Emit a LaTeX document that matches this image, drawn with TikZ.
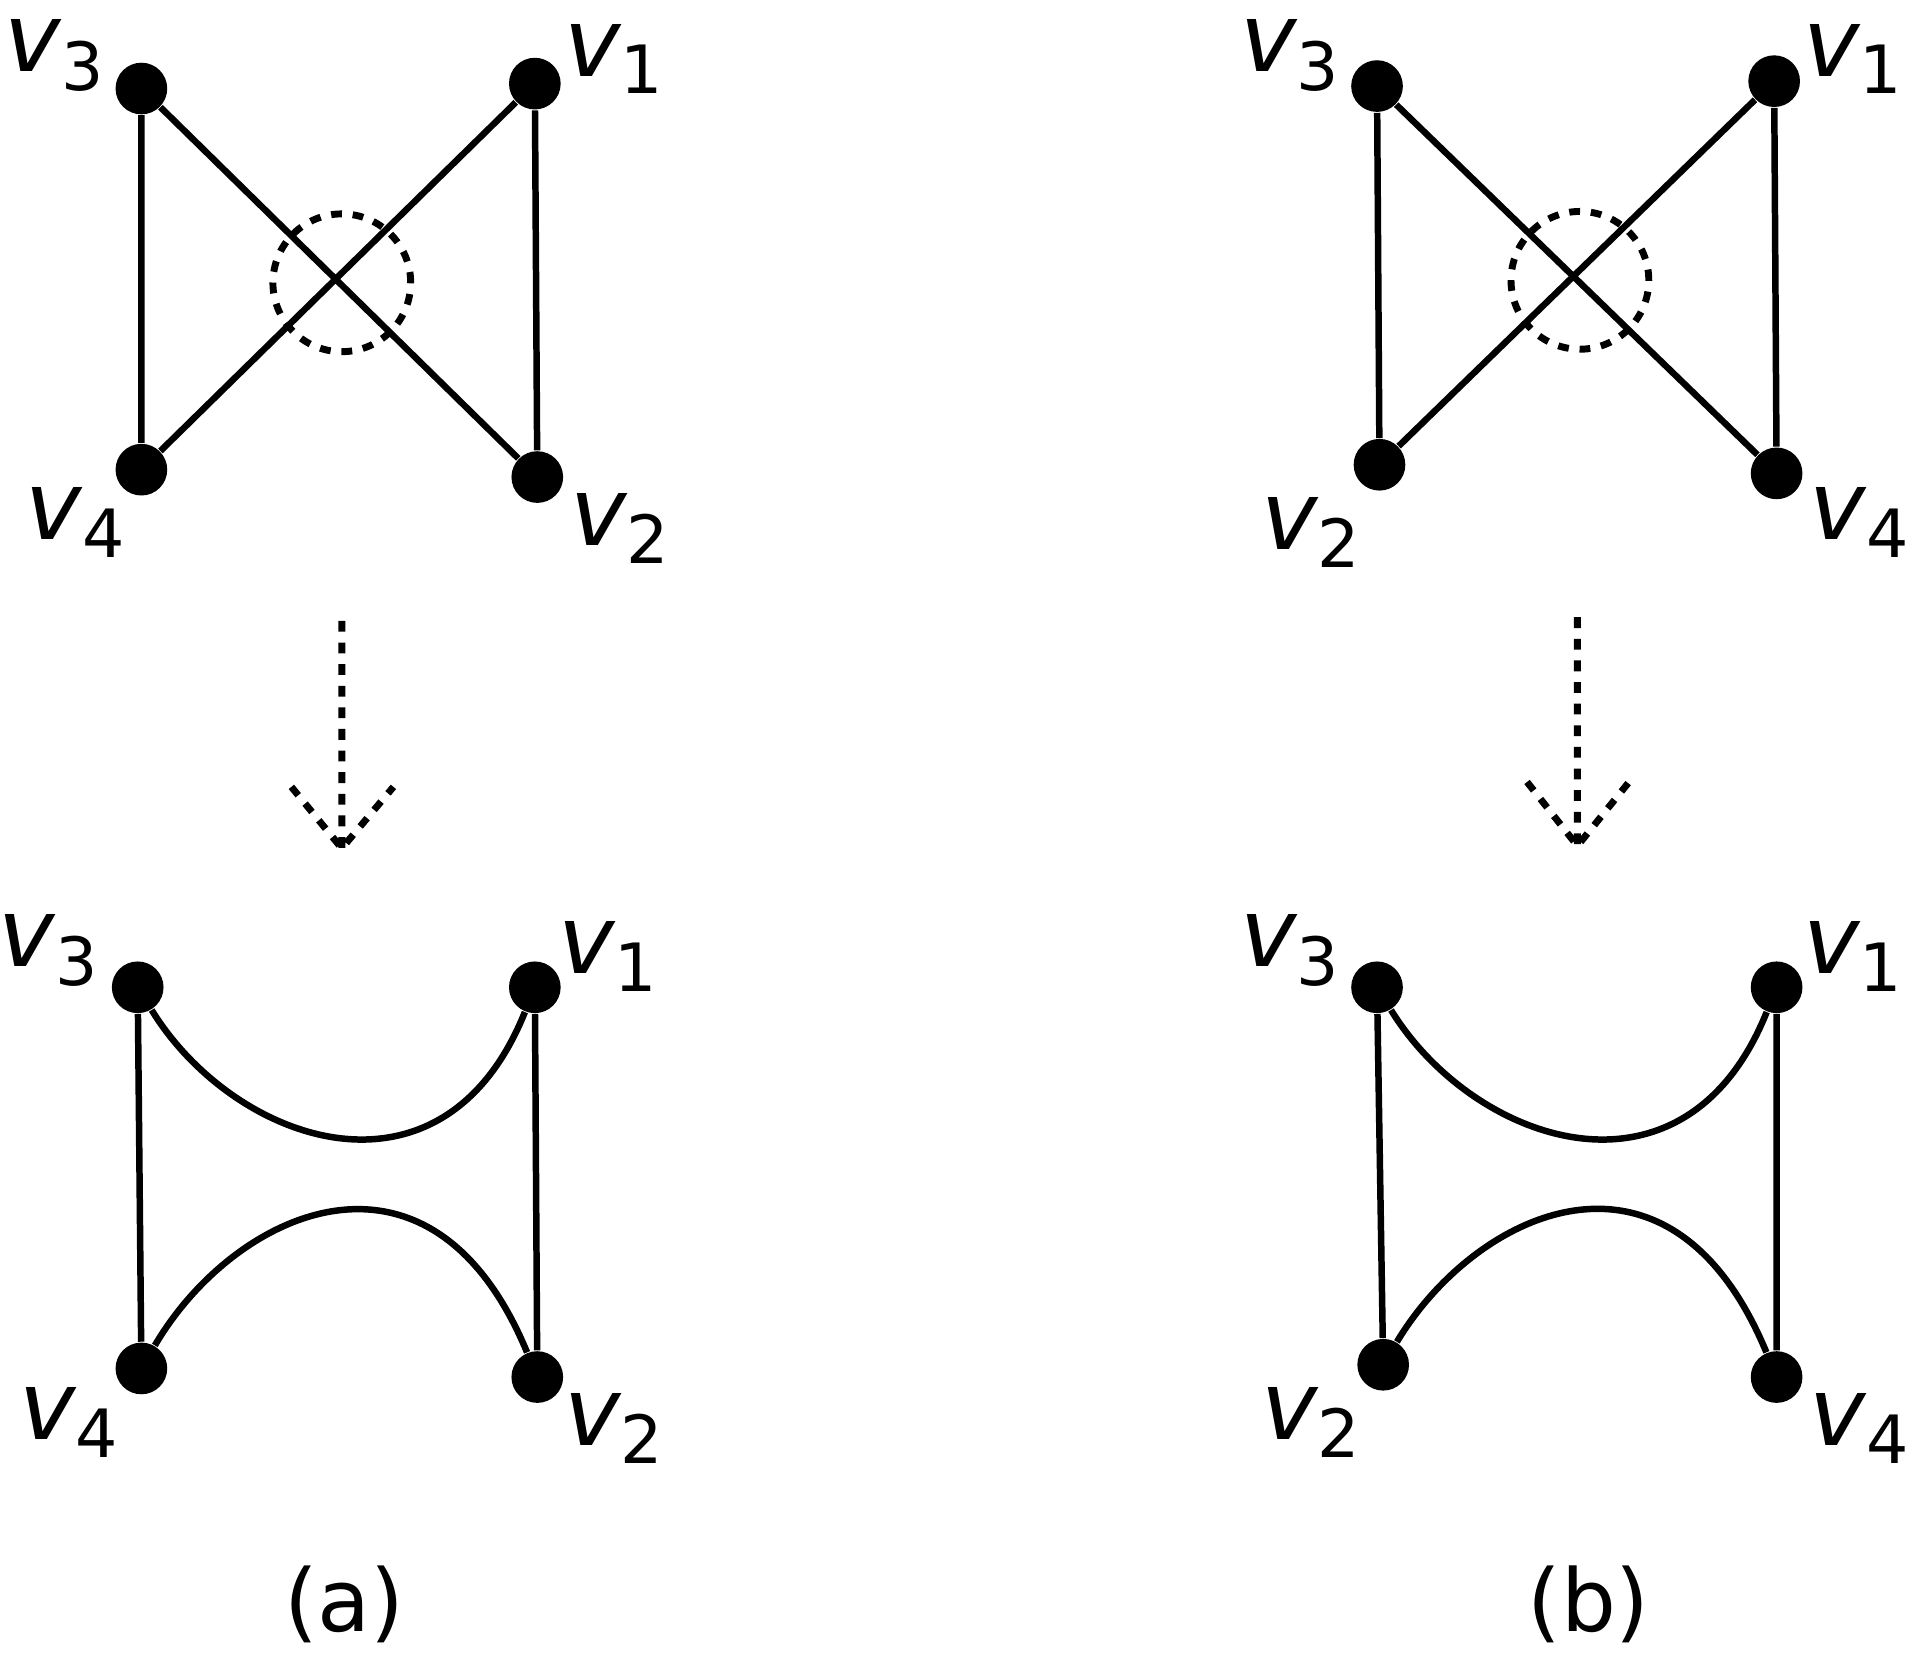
\documentclass[tikz,border=0pt]{standalone}
\usepackage{fontspec}
\setmainfont{DejaVu Sans}
\begin{document}
\begin{tikzpicture}[x=0.01cm,y=-0.01cm,
  dot/.style={circle,fill=black,inner sep=0pt,minimum size=0.42cm},
  edge/.style={line width=1.5pt},
  lab/.style={font=\fontsize{22}{24}\selectfont\itshape},
  dotted2/.style={line width=1.6pt,dash pattern=on 2.5pt off 2.5pt}]
\useasboundingbox (0,0) rectangle (1560,1351);
% panel a top
\node[dot] (a3) at (115,72) {}; \node[dot] (a1) at (435,68) {};
\node[dot] (a4) at (115,382) {}; \node[dot] (a2) at (437,388) {};
\draw[edge] (a3)--(a4) (a1)--(a2) (a3)--(a2) (a1)--(a4);
\draw[dotted2] (278,230) circle (0.56cm);
\node[lab] (la3) at (45,45) {v\textsubscript{\upshape 3}};
\node[lab] (la1) at (500,48) {v\textsubscript{\upshape 1}};
\node[lab] (la4) at (62,425) {v\textsubscript{\upshape 4}};
\node[lab] (la2) at (505,430) {v\textsubscript{\upshape 2}};
% arrow a
\coordinate (as) at (278,505); \coordinate (ae) at (278,690);
\draw[dotted2] (as)--(ae) (237,640)--(ae)--(320,640);
% panel a bottom
\node[dot] (c3) at (112,803) {}; \node[dot] (c1) at (435,803) {};
\node[dot] (c4) at (115,1113) {}; \node[dot] (c2) at (437,1120) {};
\draw[edge] (c3)--(c4) (c1)--(c2);
\draw[edge] (c3) .. controls (190,930) and (360,990) .. (c1);
\draw[edge] (c4) .. controls (190,985) and (350,910) .. (c2);
\node[lab] (lc3) at (40,773) {v\textsubscript{\upshape 3}};
\node[lab] (lc1) at (495,778) {v\textsubscript{\upshape 1}};
\node[lab] (lc4) at (57,1157) {v\textsubscript{\upshape 4}};
\node[lab] (lc2) at (500,1162) {v\textsubscript{\upshape 2}};
\node[font=\fontsize{20}{22}\selectfont] (capa) at (280,1305) {(a)};
% panel b top
\node[dot] (b3) at (1120,70) {}; \node[dot] (b1) at (1443,66) {};
\node[dot] (b2) at (1122,378) {}; \node[dot] (b4) at (1445,385) {};
\draw[edge] (b3)--(b2) (b1)--(b4) (b3)--(b4) (b1)--(b2);
\draw[dotted2] (1285,228) circle (0.56cm);
\node[lab] (lb3) at (1050,45) {v\textsubscript{\upshape 3}};
\node[lab] (lb1) at (1508,48) {v\textsubscript{\upshape 1}};
\node[lab] (lb2) at (1067,433) {v\textsubscript{\upshape 2}};
\node[lab] (lb4) at (1513,425) {v\textsubscript{\upshape 4}};
% arrow b
\coordinate (bs) at (1283,502); \coordinate (be) at (1283,688);
\draw[dotted2] (bs)--(be) (1242,636)--(be)--(1325,636);
% panel b bottom
\node[dot] (d3) at (1120,803) {}; \node[dot] (d1) at (1445,803) {};
\node[dot] (d2) at (1125,1110) {}; \node[dot] (d4) at (1445,1120) {};
\draw[edge] (d3)--(d2) (d1)--(d4);
\draw[edge] (d3) .. controls (1198,930) and (1370,990) .. (d1);
\draw[edge] (d2) .. controls (1200,985) and (1358,910) .. (d4);
\node[lab] (ld3) at (1050,773) {v\textsubscript{\upshape 3}};
\node[lab] (ld1) at (1508,778) {v\textsubscript{\upshape 1}};
\node[lab] (ld2) at (1067,1157) {v\textsubscript{\upshape 2}};
\node[lab] (ld4) at (1513,1162) {v\textsubscript{\upshape 4}};
\node[font=\fontsize{20}{22}\selectfont] (capb) at (1292,1305) {(b)};
\end{tikzpicture}
\end{document}
